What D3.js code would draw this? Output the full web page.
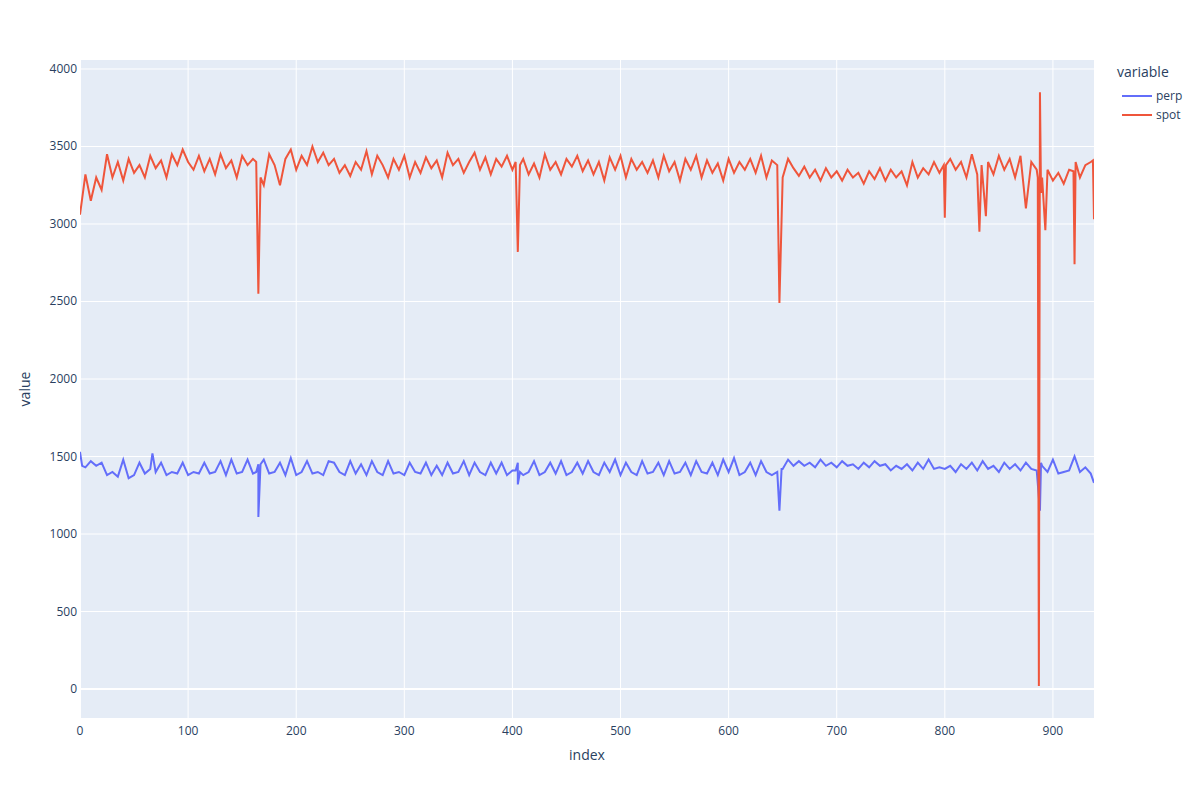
<!doctype html>
<html>
<head>
<script src="https://d3js.org/d3.v7.min.js"></script>
<style>body{margin:0;background:#fff;font-family:"Open Sans",sans-serif}</style>
</head>
<body>
<div id="chart"></div>
<script>
var spotIdx = [0,5,10,15,20,25,30,35,40,45,50,55,60,65,70,75,80,85,90,95,100,105,110,115,120,125,130,135,140,145,150,155,160,163,165,167,170,175,180,185,190,195,200,205,210,215,220,225,230,235,240,245,250,255,260,265,270,275,280,285,290,295,300,305,310,315,320,325,330,335,340,345,350,355,360,365,370,375,380,385,390,395,400,403,405,407,410,415,420,425,430,435,440,445,450,455,460,465,470,475,480,485,490,495,500,505,510,515,520,525,530,535,540,545,550,555,560,565,570,575,580,585,590,595,600,605,610,615,620,625,630,635,640,645,647,650,655,660,665,670,675,680,685,690,695,700,705,710,715,720,725,730,735,740,745,750,755,760,765,770,775,780,785,790,795,799,800,801,805,810,815,820,825,830,832,834,838,840,845,850,855,860,865,870,875,880,885,886,887,888,889,890,893,895,900,905,910,915,919,920,921,925,930,935,937,938];
var spotVal = [3060,3320,3150,3300,3220,3450,3300,3400,3280,3420,3330,3380,3300,3440,3360,3410,3300,3450,3380,3480,3400,3350,3440,3340,3420,3320,3450,3360,3410,3300,3440,3380,3420,3400,2550,3300,3250,3450,3380,3250,3420,3480,3350,3440,3380,3500,3400,3460,3380,3420,3330,3380,3310,3400,3350,3470,3320,3440,3380,3300,3420,3350,3440,3300,3400,3330,3430,3360,3410,3300,3460,3380,3420,3330,3400,3460,3350,3430,3320,3420,3370,3440,3350,3400,2820,3380,3420,3320,3390,3300,3450,3350,3400,3320,3420,3370,3440,3340,3410,3320,3400,3280,3430,3350,3440,3300,3420,3350,3400,3330,3410,3300,3440,3340,3400,3280,3420,3350,3440,3300,3410,3330,3390,3280,3420,3330,3400,3350,3420,3330,3440,3300,3410,3380,2490,3300,3420,3360,3310,3370,3300,3350,3280,3360,3300,3340,3280,3350,3300,3330,3260,3340,3290,3360,3280,3350,3300,3340,3250,3400,3300,3360,3320,3400,3330,3380,3040,3380,3420,3350,3400,3300,3450,3320,2950,3380,3050,3400,3320,3440,3350,3420,3300,3440,3100,3400,3350,3300,20,3850,3200,3300,2960,3350,3280,3330,3260,3350,3340,2740,3400,3300,3380,3400,3410,3030];

// perp: one reading every 5 index steps, plus the short spikes between them
var perpStep = 5;
var perpBase = [
  1530,1430,1470,1440,1460,1380,1400,1370,1480,1360,
  1380,1460,1390,1420,1400,1460,1380,1400,1390,1460,
  1380,1400,1390,1460,1390,1400,1470,1380,1480,1390,
  1400,1480,1390,1450,1480,1390,1400,1460,1380,1490,
  1380,1400,1470,1390,1400,1380,1470,1460,1400,1380,
  1470,1390,1450,1380,1470,1400,1380,1470,1390,1400,
  1380,1460,1400,1390,1460,1380,1440,1380,1460,1390,
  1400,1470,1380,1460,1400,1380,1460,1390,1460,1380,
  1410,1460,1380,1400,1470,1380,1400,1460,1390,1470,
  1380,1400,1460,1390,1470,1400,1380,1460,1400,1480,
  1380,1460,1400,1380,1470,1390,1400,1460,1380,1470,
  1390,1400,1460,1380,1470,1400,1390,1460,1380,1480,
  1400,1490,1380,1400,1460,1380,1470,1400,1380,1400,
  1420,1480,1440,1470,1440,1460,1430,1480,1440,1460,
  1430,1470,1440,1450,1420,1460,1430,1470,1440,1450,
  1410,1440,1420,1450,1410,1460,1420,1480,1420,1430,
  1420,1440,1400,1450,1420,1460,1410,1470,1420,1440,
  1400,1460,1420,1450,1410,1460,1420,1410,1440,1400,
  1480,1390,1400,1410,1500,1400,1430,1390];
var perpExtraIdx = [2,67,163,165,167,403,405,407,647,649,888,889,938];
var perpExtraVal = [1440,1520,1400,1110,1450,1410,1320,1400,1150,1420,1150,1460,1330];

var xTicks = d3.range(0, 901, 100);
var yTicks = d3.range(0, 4001, 500);

var perpPts = perpBase.map((v, i) => [i * perpStep, v])
  .concat(d3.zip(perpExtraIdx, perpExtraVal))
  .sort((a, b) => a[0] - b[0]);

var W = 1200, H = 800, L = 80, R = 1094, T = 60, B = 718;
var svg = d3.select("#chart").append("svg").attr("width", W).attr("height", H);
var x = d3.scaleLinear().domain([0, 938]).range([L, R]);
var y = d3.scaleLinear().domain([-187, 4058]).range([B, T]);

svg.append("rect").attr("x", L).attr("y", T).attr("width", R - L).attr("height", B - T).attr("fill", "#e5ecf6");
svg.selectAll(".gx").data(xTicks).enter().append("line")
  .attr("x1", d => x(d)).attr("x2", d => x(d)).attr("y1", T).attr("y2", B)
  .attr("stroke", "#fff").attr("stroke-width", d => d === 0 ? 2 : 1);
svg.selectAll(".gy").data(yTicks).enter().append("line")
  .attr("x1", L).attr("x2", R).attr("y1", d => y(d)).attr("y2", d => y(d))
  .attr("stroke", "#fff").attr("stroke-width", d => d === 0 ? 2 : 1);

svg.selectAll(".tx").data(xTicks).enter().append("text")
  .attr("x", d => x(d)).attr("y", B + 17).attr("text-anchor", "middle")
  .attr("font-size", 12).attr("fill", "#2a3f5f").text(d => d);
svg.selectAll(".ty").data(yTicks).enter().append("text")
  .attr("x", L - 3).attr("y", d => y(d) + 4).attr("text-anchor", "end")
  .attr("font-size", 12).attr("fill", "#2a3f5f").text(d => d);
svg.append("text").attr("x", (L + R) / 2).attr("y", 760).attr("text-anchor", "middle")
  .attr("font-size", 14).attr("fill", "#2a3f5f").text("index");
svg.append("text").attr("transform", "translate(30," + (T + B) / 2 + ") rotate(-90)")
  .attr("text-anchor", "middle").attr("font-size", 14).attr("fill", "#2a3f5f").text("value");

svg.append("clipPath").attr("id", "c").append("rect")
  .attr("x", L).attr("y", T).attr("width", R - L).attr("height", B - T);
var line = d3.line().x(d => x(d[0])).y(d => y(d[1]));
var series = [
  {name: "perp", color: "#636efa", pts: perpPts},
  {name: "spot", color: "#ef553b", pts: d3.zip(spotIdx, spotVal)}
];
series.forEach(function(s) {
  svg.append("path").attr("d", line(s.pts)).attr("fill", "none")
    .attr("stroke", s.color).attr("stroke-width", 2).attr("clip-path", "url(#c)");
});

svg.append("text").attr("x", 1117).attr("y", 77).attr("font-size", 14).attr("fill", "#2a3f5f").text("variable");
series.forEach(function(s, i) {
  var ly = 96 + i * 19;
  svg.append("line").attr("x1", 1122).attr("x2", 1152).attr("y1", ly).attr("y2", ly)
    .attr("stroke", s.color).attr("stroke-width", 2);
  svg.append("text").attr("x", 1156).attr("y", ly + 4).attr("font-size", 12).attr("fill", "#2a3f5f").text(s.name);
});
</script>
</body>
</html>
